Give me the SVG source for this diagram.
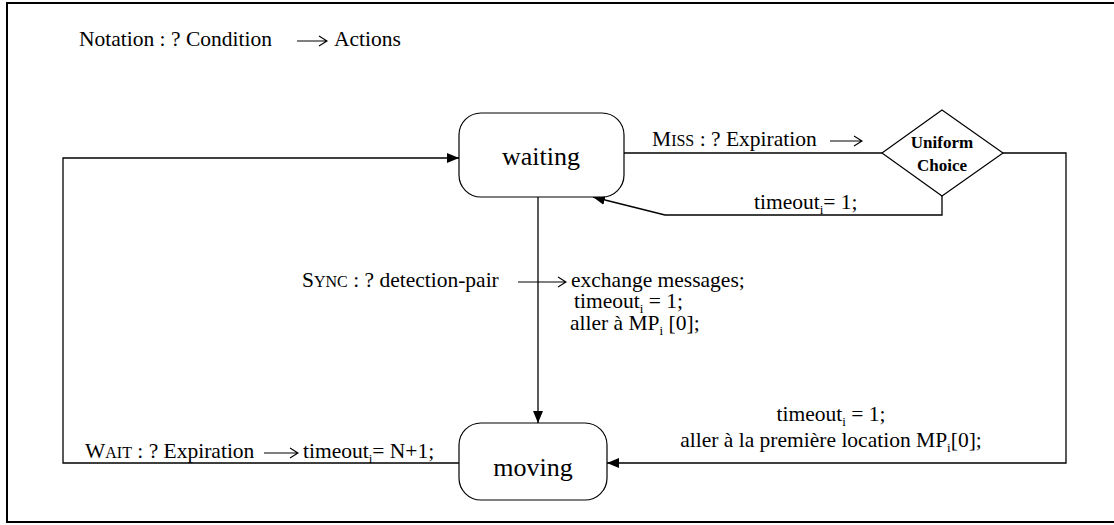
<svg xmlns="http://www.w3.org/2000/svg" width="1114" height="525" viewBox="0 0 1114 525">
  <defs>
    <marker id="tri" viewBox="0 0 12 10" refX="12" refY="5" markerWidth="12" markerHeight="10" markerUnits="userSpaceOnUse" orient="auto">
      <path d="M0,0 L12,5 L0,10 Z" fill="#000"/>
    </marker>
  </defs>
  <style>
    .lbl { font-size: 21.5px; }
    .sc { font-size: 16px; }
    .sub { font-size: 13px; }
    .state { font-size: 26px; text-anchor: middle; }
    .node { fill: #fff; stroke: #000; stroke-width: 1.2; }
    .edge { fill: none; stroke: #000; stroke-width: 1.3; }
    .to { fill: none; stroke: #000; stroke-width: 1.1; }
    .frame { fill: none; stroke: #000; stroke-width: 2; }
  </style>

  <rect width="1114" height="525" fill="#fff"/>
  <rect class="frame" x="7" y="3" width="1120" height="519"/>

  <g font-family="Liberation Serif, Times New Roman, serif" fill="#000">
    <!-- legend -->
    <g id="legend">
      <text class="lbl" x="79" y="46">Notation : ? Condition</text>
      <path class="to" d="M297,41 H327 M319,36 L327,41 L319,46"/>
      <text class="lbl" x="334" y="46">Actions</text>
    </g>

    <!-- transitions -->
    <g id="connectors">
      <!-- moving -> waiting (Wait) -->
      <path class="edge" d="M459,463 H63 V158 H459" marker-end="url(#tri)"/>
      <!-- waiting -> choice (Miss) -->
      <path class="edge" d="M624,153 H882"/>
      <!-- choice -> waiting -->
      <path class="edge" d="M942,196 V215 H665 L593,197" marker-end="url(#tri)"/>
      <!-- choice -> moving -->
      <path class="edge" d="M1003,153 H1066 V463 H607" marker-end="url(#tri)"/>
      <!-- waiting -> moving (Sync) -->
      <path class="edge" d="M538,197 V423" marker-end="url(#tri)"/>

      <!-- Miss label -->
      <text class="lbl" x="652" y="146">M<tspan class="sc">ISS</tspan> : ? Expiration</text>
      <path class="to" d="M830,141 H862 M854,136 L862,141 L854,146"/>

      <!-- choice -> waiting label -->
      <text class="lbl" x="754" y="209">timeout<tspan class="sub" dy="5">i</tspan><tspan dy="-5">= 1;</tspan></text>

      <!-- Sync label -->
      <text class="lbl" x="302" y="287">S<tspan class="sc">YNC</tspan> : ? detection-pair</text>
      <path class="to" d="M518,282 H566 M558,277 L566,282 L558,287"/>
      <text class="lbl" x="571" y="287">exchange messages;</text>
      <text class="lbl" x="574" y="308">timeout<tspan class="sub" dy="5">i</tspan><tspan dy="-5"> = 1;</tspan></text>
      <text class="lbl" x="570" y="330">aller à MP<tspan class="sub" dy="5">i</tspan><tspan dy="-5"> [0];</tspan></text>

      <!-- Wait label -->
      <text class="lbl" x="85" y="458">W<tspan class="sc">AIT</tspan> : ? Expiration</text>
      <path class="to" d="M264,453 H298 M290,448 L298,453 L290,458"/>
      <text class="lbl" x="303" y="458">timeout<tspan class="sub" dy="5">i</tspan><tspan dy="-5">= N+1;</tspan></text>

      <!-- choice -> moving label -->
      <text class="lbl" x="831" y="421" text-anchor="middle">timeout<tspan class="sub" dy="5">i</tspan><tspan dy="-5"> = 1;</tspan></text>
      <text class="lbl" x="831" y="447" text-anchor="middle">aller à la première location MP<tspan class="sub" dy="5">i</tspan><tspan dy="-5">[0];</tspan></text>
    </g>

    <!-- states -->
    <g id="waiting">
      <rect class="node" x="459" y="113" width="165" height="84" rx="22" ry="22"/>
      <text class="state" x="541" y="165">waiting</text>
    </g>
    <g id="moving">
      <rect class="node" x="459" y="423" width="148" height="77" rx="22" ry="22"/>
      <text class="state" x="533" y="476">moving</text>
    </g>
    <g id="choice">
      <path class="node" d="M942,110 L1003,153 L942,196 L882,153 Z"/>
      <text x="942" y="148" text-anchor="middle" font-size="17" font-weight="bold">Uniform</text>
      <text x="942" y="171" text-anchor="middle" font-size="17" font-weight="bold">Choice</text>
    </g>
  </g>
</svg>
